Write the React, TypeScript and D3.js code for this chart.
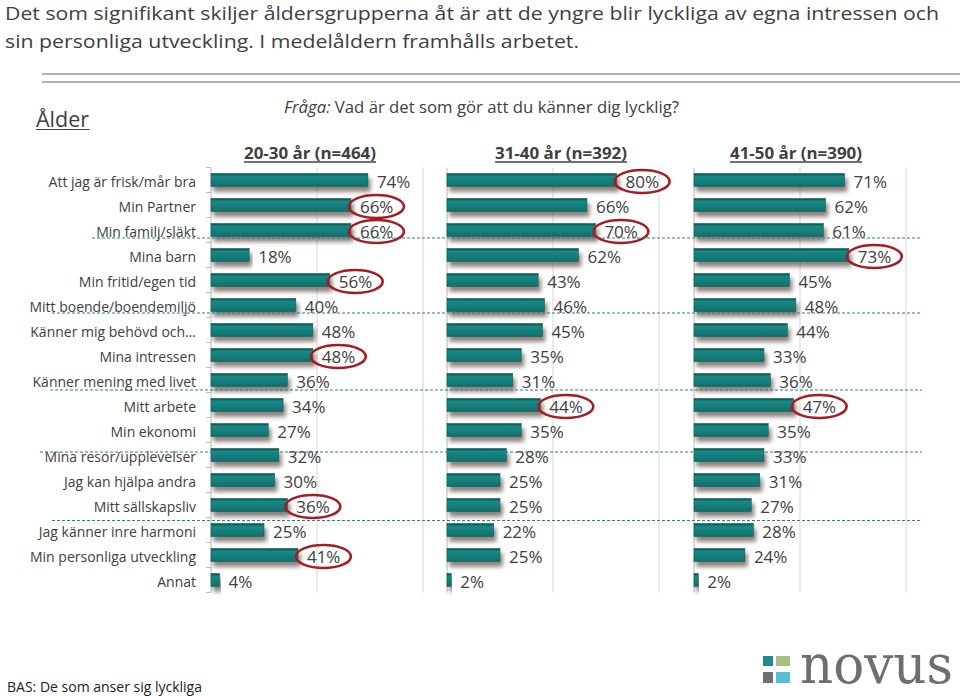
import React from "react";
import * as d3 from "d3";

const categories = [
  "Att jag är frisk/mår bra",
  "Min Partner",
  "Min familj/släkt",
  "Mina barn",
  "Min fritid/egen tid",
  "Mitt boende/boendemiljö",
  "Känner mig behövd och…",
  "Mina intressen",
  "Känner mening med livet",
  "Mitt arbete",
  "Min ekonomi",
  "Mina resor/upplevelser",
  "Jag kan hjälpa andra",
  "Mitt sällskapsliv",
  "Jag känner inre harmoni",
  "Min personliga utveckling",
  "Annat",
];

const panelTitles = ["20-30 år (n=464)", "31-40 år (n=392)", "41-50 år (n=390)"];

const values2030 = [74, 66, 66, 18, 56, 40, 48, 48, 36, 34, 27, 32, 30, 36, 25, 41, 4];
const values3140 = [80, 66, 70, 62, 43, 46, 45, 35, 31, 44, 35, 28, 25, 25, 22, 25, 2];
const values4150 = [71, 62, 61, 73, 45, 48, 44, 33, 36, 47, 35, 33, 31, 27, 28, 24, 2];

const circled2030 = ["Min Partner", "Min familj/släkt", "Min fritid/egen tid", "Mina intressen", "Mitt sällskapsliv", "Min personliga utveckling"];
const circled3140 = ["Att jag är frisk/mår bra", "Min familj/släkt", "Mitt arbete"];
const circled4150 = ["Mina barn", "Mitt arbete"];

const titleLines = [
  "Det som signifikant skiljer åldersgrupperna åt är att de yngre blir lyckliga av egna intressen och",
  "sin personliga utveckling. I medelåldern framhålls arbetet.",
];
const questionLabel = "Fråga:";
const questionText = " Vad är det som gör att du känner dig lycklig?";
const groupLabel = "Ålder";
const baseText = "BAS: De som anser sig lyckliga";

// dashed separators: below these categories (decorative annotations)
const separators = [
  { cat: "Min familj/släkt", dy: 8, x0: 92 },
  { cat: "Mitt boende/boendemiljö", dy: 8, x0: 52 },
  { cat: "Känner mening med livet", dy: 10, x0: 50 },
  { cat: "Mina resor/upplevelser", dy: -3, x0: 40 },
  { cat: "Mitt sällskapsliv", dy: 15.5, x0: 52 },
];

const W = 960;
const H = 696;
const FONT = "'Open Sans', 'Noto Sans', sans-serif";
const TEXT = "#404040";
const BAR_H = 13;

const panelX0 = [211, 447, 694];
const panelWidth = 212;
const headerCx = [310, 561, 796];

export default function App() {
  const y = d3
    .scaleBand<string>()
    .domain(categories)
    .range([167.5, 592.5])
    .paddingInner(0.48)
    .paddingOuter(0.24);

  const step = y.step();
  const [r0, r1] = y.range();
  const rowC = (c: string) => (y(c) as number) + y.bandwidth() / 2;

  const panels = [
    { values: values2030, circled: circled2030, title: panelTitles[0] },
    { values: values3140, circled: circled3140, title: panelTitles[1] },
    { values: values4150, circled: circled4150, title: panelTitles[2] },
  ];

  const boundaries = d3.range(categories.length + 1).map((i) => r0 + step * i);

  return (
    <div style={{ position: "absolute", left: 0, top: 0, width: W, height: H, background: "#fff" }}>
      <svg width={W} height={H} viewBox={`0 0 ${W} ${H}`} style={{ display: "block" }}>
        <defs>
          <linearGradient id="barGrad" x1="0" y1="0" x2="0" y2="1">
            <stop offset="0" stopColor="#0a5f5c" />
            <stop offset="0.12" stopColor="#0a5f5c" />
            <stop offset="0.18" stopColor="#1a8a86" />
            <stop offset="0.6" stopColor="#137d79" />
            <stop offset="1" stopColor="#0f716e" />
          </linearGradient>
          <filter id="shadow" x="-5%" y="-50%" width="115%" height="230%">
            <feDropShadow dx="2.5" dy="5" stdDeviation="2" floodColor="#5b4b46" floodOpacity="0.7" />
          </filter>
        </defs>

        <rect x={0} y={0} width={W} height={H} fill="#fff" />

        {/* Title */}
        {titleLines.map((t, i) => (
          <text
            key={i}
            x={5}
            y={i === 0 ? 20 : 47.5}
            fontFamily={FONT}
            fontSize={19}
            fill={TEXT}
            textLength={i === 0 ? 934 : 574}
            lengthAdjust="spacingAndGlyphs"
          >
            {t}
          </text>
        ))}

        {/* double line */}
        <line x1={42} x2={960} y1={74} y2={74} stroke="#9a9a9a" strokeWidth={1.6} />
        <line x1={42} x2={960} y1={82} y2={82} stroke="#9a9a9a" strokeWidth={1.6} />

        {/* Ålder */}
        <text x={36} y={126.5} fontFamily={FONT} fontSize={22.5} fill={TEXT} textLength={53} lengthAdjust="spacingAndGlyphs">
          {groupLabel}
        </text>
        <line x1={36} x2={89.5} y1={129.5} y2={129.5} stroke={TEXT} strokeWidth={1.2} />

        {/* Question */}
        <text x={284} y={113} fontFamily={FONT} fontSize={16.5} fill={TEXT} textLength={395} lengthAdjust="spacingAndGlyphs">
          <tspan fontStyle="italic">{questionLabel}</tspan>
          <tspan>{questionText}</tspan>
        </text>

        {/* Panel headers */}
        {panels.map((p, i) => (
          <g key={"h" + i}>
            <text
              x={headerCx[i] - 66}
              y={159}
              fontFamily={FONT}
              fontWeight="bold"
              fontSize={16}
              fill={TEXT}
              textLength={132}
              lengthAdjust="spacingAndGlyphs"
            >
              {p.title}
            </text>
            <line x1={headerCx[i] - 66} x2={headerCx[i] + 66} y1={162} y2={162} stroke={TEXT} strokeWidth={1.3} />
          </g>
        ))}

        {/* Category labels */}
        {categories.map((c) => (
          <text
            key={c}
            x={196}
            y={rowC(c) + 1}
            textAnchor="end"
            dominantBaseline="central"
            fontFamily={FONT}
            fontSize={14}
            fill={TEXT}
          >
            {c}
          </text>
        ))}

        {/* Panels */}
        {panels.map((p, pi) => {
          const x = d3.scaleLinear().domain([0, 100]).range([panelX0[pi], panelX0[pi] + panelWidth]);
          return (
            <g key={"p" + pi}>
              {[50, 100].map((g) => (
                <line key={g} x1={x(g)} x2={x(g)} y1={r0} y2={r1} stroke="#d6d6d6" strokeWidth={1} />
              ))}
              <line x1={x(0)} x2={x(0)} y1={r0} y2={r1} stroke="#bdbdbd" strokeWidth={1} />
              {pi === 0 &&
                boundaries.map((b, bi) => (
                  <line key={bi} x1={x(0) - 5} x2={x(0)} y1={b} y2={b} stroke="#bdbdbd" strokeWidth={1} />
                ))}
              {categories.map((c, ci) => (
                <rect
                  key={c}
                  x={x(0)}
                  y={y(c) as number}
                  width={x(p.values[ci]) - x(0)}
                  height={BAR_H}
                  fill="url(#barGrad)"
                  stroke="#0b5e5b"
                  strokeWidth={0.6}
                  filter="url(#shadow)"
                />
              ))}
              {categories.map((c, ci) => (
                <text
                  key={"v" + c}
                  x={x(p.values[ci]) + 9}
                  y={rowC(c) + 1.5}
                  dominantBaseline="central"
                  fontFamily={FONT}
                  fontSize={17}
                  fill={TEXT}
                >
                  {p.values[ci]}%
                </text>
              ))}
              {categories.map((c, ci) =>
                p.circled.includes(c) ? (
                  <ellipse
                    key={"e" + c}
                    cx={x(p.values[ci]) + 25.5}
                    cy={rowC(c) + 1.5}
                    rx={27.5}
                    ry={11.5}
                    fill="none"
                    stroke="#a31d24"
                    strokeWidth={2.6}
                  />
                ) : null
              )}
            </g>
          );
        })}

        {/* Dashed separators */}
        {separators.map((s, i) => {
          const yy = rowC(s.cat) + s.dy;
          return (
            <line
              key={"s" + i}
              x1={s.x0}
              x2={922}
              y1={yy}
              y2={yy}
              stroke="#2a7f80"
              strokeWidth={1.1}
              strokeDasharray="3,2"
            />
          );
        })}

        {/* BAS */}
        <text x={7} y={691.5} fontFamily={FONT} fontSize={14} fill="#222" textLength={195} lengthAdjust="spacingAndGlyphs">
          {baseText}
        </text>

        {/* Logo */}
        <g>
          <rect x={763} y={656} width={10} height={10} fill="#1d8a8c" />
          <rect x={776} y={656} width={14} height={10} fill="#a9bf7e" />
          <rect x={763} y={672} width={10} height={11} fill="#6f6f6f" />
          <rect x={776} y={672} width={14} height={11} fill="#55bfd3" />
          <text
            x={800}
            y={683}
            fontFamily="'DejaVu Serif', 'Liberation Serif', serif"
            fontSize={54}
            fill="#6e6e6e"
            textLength={153}
            lengthAdjust="spacingAndGlyphs"
          >
            novus
          </text>
        </g>
      </svg>
    </div>
  );
}
